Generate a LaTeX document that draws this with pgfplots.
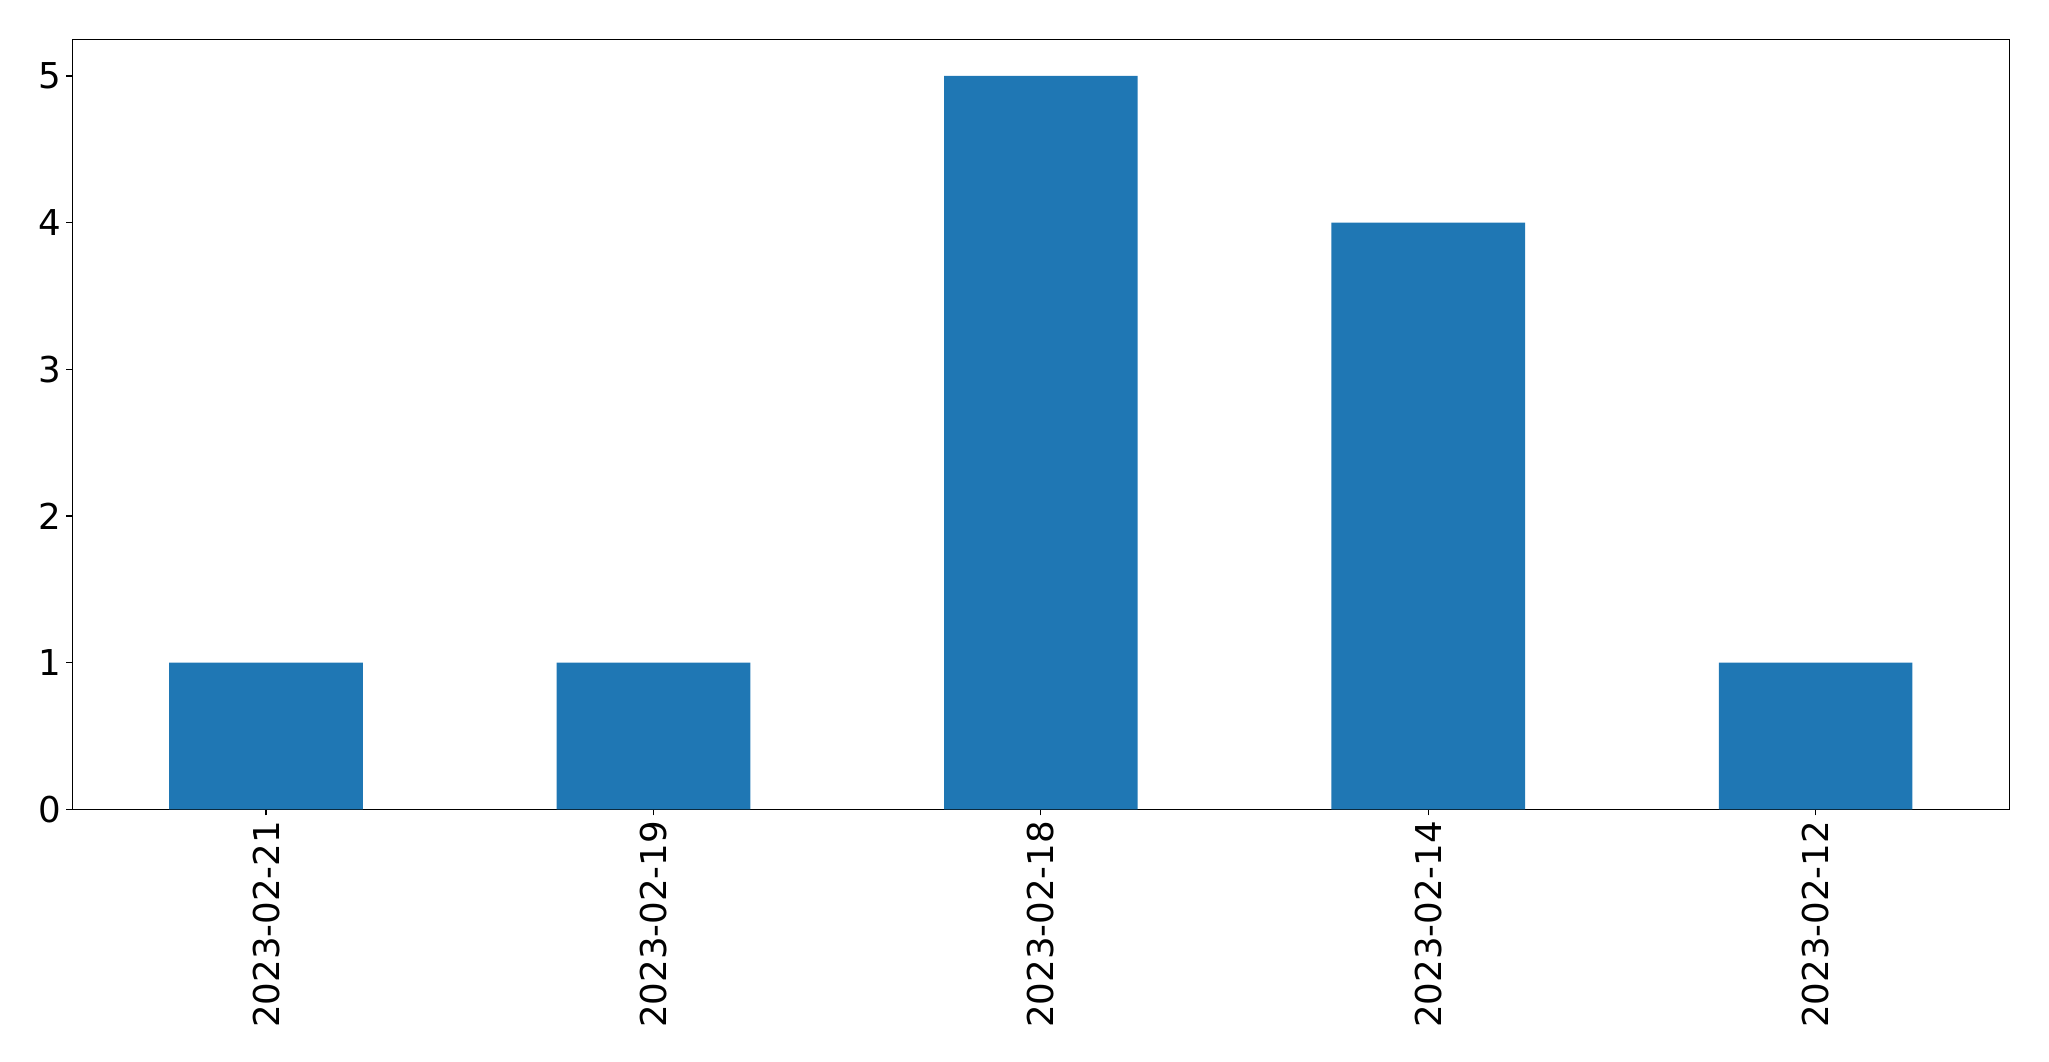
\documentclass[border=0pt]{standalone}
\usepackage{fontspec}
\setmainfont{DejaVu Sans}
\usepackage{pgfplots}
\pgfplotsset{compat=1.18}
\definecolor{mplblue}{HTML}{1F77B4}
\begin{document}
\begin{tikzpicture}
\begin{axis}[
  at={(0,0)}, anchor=south west,
  width=968.45pt, height=385pt, scale only axis,
  xmin=-0.5, xmax=4.5, ymin=0, ymax=5.25,
  axis line style={line width=0.6pt},
  tick style={line width=0.6pt, black},
  tick align=outside, major tick length=3pt,
  xtick={0,1,2,3,4},
  xticklabels={2023-02-21,2023-02-19,2023-02-18,2023-02-14,2023-02-12},
  ytick={0,1,2,3,4,5},
  x tick label style={rotate=90, anchor=east, font=\fontsize{17.8}{20}\selectfont, inner sep=0pt, outer sep=0pt},
  y tick label style={font=\fontsize{17.8}{20}\selectfont, inner sep=0pt, outer sep=0pt},
  xticklabel shift=2.8pt, yticklabel shift=2.5pt,
  /pgf/number format/assume math mode=true,
  xtick pos=bottom, ytick pos=left,
  clip=false,
]
\addplot[ybar, bar width=0.5, fill=mplblue, draw=none, bar shift=0pt] coordinates {(0,1) (1,1) (2,5) (3,4) (4,1)};
\end{axis}
\pgfresetboundingbox
\path[use as bounding box] (-36.2pt,-125.85pt) rectangle (988.3pt,404.65pt);
\end{tikzpicture}
\end{document}
